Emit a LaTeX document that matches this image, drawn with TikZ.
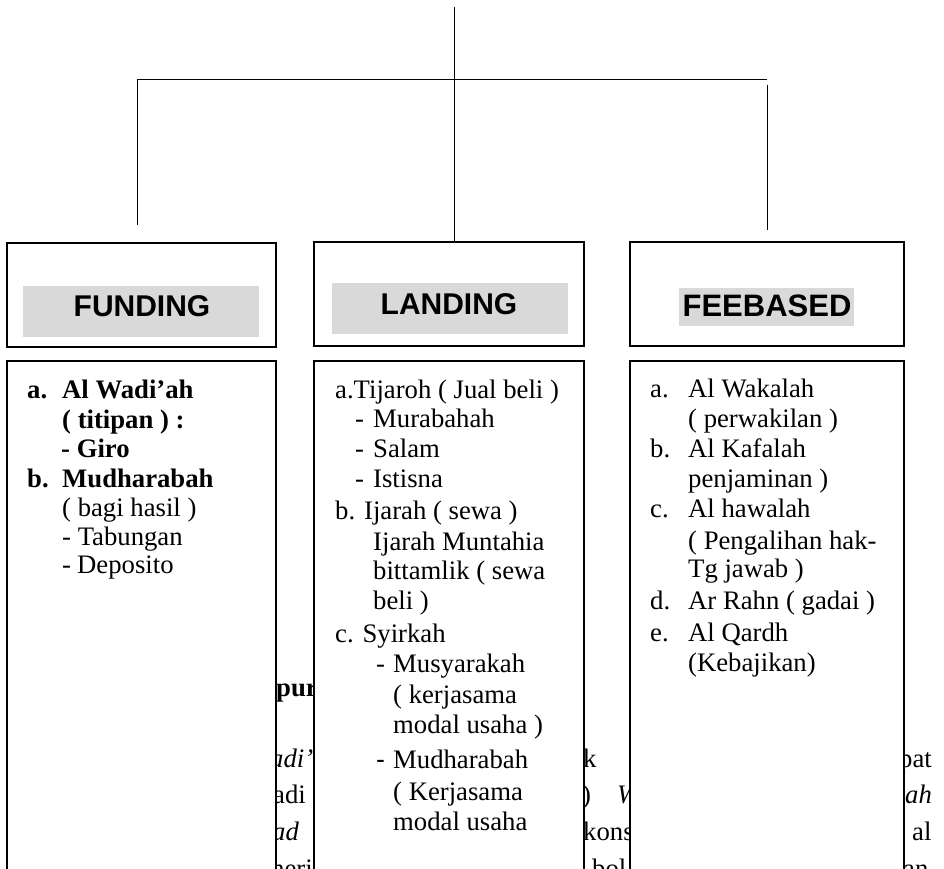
\documentclass[tikz,border=0pt]{standalone}
\usepackage{fontspec}
\setmainfont{Liberation Serif}
\setsansfont{Liberation Sans}
\definecolor{hlgray}{RGB}{217,217,217}
\begin{document}
\begin{tikzpicture}[x=1pt,y=-1pt,
  box/.style={draw=black, line width=1.3pt, fill=white, inner sep=0pt},
  hlbox/.style={fill=hlgray, inner sep=0pt},
  head/.style={font=\sffamily\bfseries\fontsize{30}{32}\selectfont, inner sep=0pt},
  txt/.style={anchor=base west, inner sep=0pt, font=\fontsize{26.7}{30}\selectfont},
  btxt/.style={anchor=base west, inner sep=0pt, font=\bfseries\fontsize{26.7}{30}\selectfont},
  itxt/.style={anchor=base west, inner sep=0pt, font=\itshape\fontsize{26.7}{30}\selectfont},
  conn/.style={line width=1pt}]
\useasboundingbox (0,0) rectangle (944,869);
\clip (0,0) rectangle (944,869);

% background text fragments (partly hidden behind the boxes)
\node[btxt] (bg1) at (276,696) {pur};
\node[itxt] (bg2) at (270,767) {adi’};
\node[txt]  (bg3) at (273,803) {adi};
\node[itxt] (bg4) at (272,840) {ad};
\node[txt]  (bg5) at (271,877) {heri};
\node[txt]  (bg6) at (583,767) {k};
\node[txt]  (bg7) at (582,803) {)};
\node[itxt] (bg8) at (617,803) {W};
\node[txt]  (bg9) at (583,840) {kons};
\node[txt]  (bg10) at (592,877) {bol};
\node[txt]  (bg11) at (899,767) {pat};
\node[itxt] (bg12) at (905,803) {ah};
\node[txt]  (bg13) at (912,840) {al};
\node[txt]  (bg14) at (903,877) {an};

% header boxes
\node[box, minimum width=269pt, minimum height=104pt] (fundH) at (141.5,295) {};
\node[box, minimum width=270pt, minimum height=104pt] (landH) at (449,294) {};
\node[box, minimum width=274pt, minimum height=104pt] (feeH) at (767,294) {};

\node[hlbox, minimum width=236pt, minimum height=51pt] (fundG) at (141,311.5) {};
\node[hlbox, minimum width=236pt, minimum height=51pt] (landG) at (450,308.5) {};
\node[hlbox, minimum width=175pt, minimum height=38pt] (feeG) at (766.5,307) {};

\node[head] (fundT) at (142,306) {FUNDING};
\node[head] (landT) at (449,304) {LANDING};
\node[head, font=\sffamily\bfseries\fontsize{31}{33}\selectfont] (feeT) at (767,306) {FEEBASED};

% content boxes
\node[box, minimum width=269pt, minimum height=540pt] (fundC) at (141.5,631) {};
\node[box, minimum width=270pt, minimum height=540pt] (landC) at (449,631) {};
\node[box, minimum width=274pt, minimum height=540pt] (feeC) at (767,631) {};

% connectors
\coordinate (top) at (454,7);
\coordinate (hl) at (137,80);
\coordinate (hr) at (767,80);
\coordinate (lend) at (137,225);
\coordinate (rtop) at (767,85);
\coordinate (rend) at (767,230);
\draw[conn] (top) -- (top |- landH.north);
\draw[conn] (hl) -- (hr);
\draw[conn] (hl) -- (lend);
\draw[conn] (rtop) -- (rend);

% FUNDING content
\node[btxt] (f1a) at (27,398) {a.};
\node[btxt] (f1) at (62,398) {Al Wadi’ah};
\node[btxt] (f2) at (62,428) {( titipan ) :};
\node[btxt] (f3) at (61,457) {- Giro};
\node[btxt] (f4a) at (27,487) {b.};
\node[btxt] (f4) at (62,487) {Mudharabah};
\node[txt] (f5) at (62,516) {( bagi hasil )};
\node[txt] (f6) at (62,545) {- Tabungan};
\node[txt] (f7a) at (62,573) {-};
\node[txt] (f7) at (77,573) {Deposito};

% LANDING content
\node[txt] (l1) at (335,398) {a.Tijaroh ( Jual beli )};
\node[txt] (l2a) at (355,427) {-};
\node[txt] (l2) at (373,427) {Murabahah};
\node[txt] (l3a) at (355,457) {-};
\node[txt] (l3) at (373,457) {Salam};
\node[txt] (l4a) at (355,487) {-};
\node[txt] (l4) at (373,487) {Istisna};
\node[txt] (l5) at (335,519) {b. Ijarah ( sewa )};
\node[txt] (l6) at (373,550) {Ijarah Muntahia};
\node[txt] (l7) at (373,579) {bittamlik ( sewa};
\node[txt] (l8) at (373,609) {beli )};
\node[txt] (l9) at (335,642) {c. Syirkah};
\node[txt] (l10a) at (376,672) {-};
\node[txt] (l10) at (393,672) {Musyarakah};
\node[txt] (l11) at (393,703) {( kerjasama};
\node[txt] (l12) at (393,733) {modal usaha )};
\node[txt] (l13a) at (376,768) {\sffamily -};
\node[txt] (l13) at (393,768) {Mudharabah};
\node[txt] (l14) at (393,800) {( Kerjasama};
\node[txt] (l15) at (393,830) {modal usaha};

% FEEBASED content
\node[txt] (e1a) at (650,397) {a.};
\node[txt] (e1) at (688,397) {Al Wakalah};
\node[txt] (e2) at (688,427) {( perwakilan )};
\node[txt] (e3a) at (650,457) {b.};
\node[txt] (e3) at (688,457) {Al Kafalah};
\node[txt] (e4) at (688,487) {penjaminan )};
\node[txt] (e5a) at (650,517) {c.};
\node[txt] (e5) at (688,517) {Al hawalah};
\node[txt] (e6) at (688,549) {( Pengalihan hak-};
\node[txt] (e7) at (688,577) {Tg jawab )};
\node[txt] (e8a) at (650,609) {d.};
\node[txt] (e8) at (688,609) {Ar Rahn ( gadai )};
\node[txt] (e9a) at (650,641) {e.};
\node[txt] (e9) at (688,641) {Al Qardh};
\node[txt] (e10) at (688,671) {(Kebajikan)};
\end{tikzpicture}
\end{document}
